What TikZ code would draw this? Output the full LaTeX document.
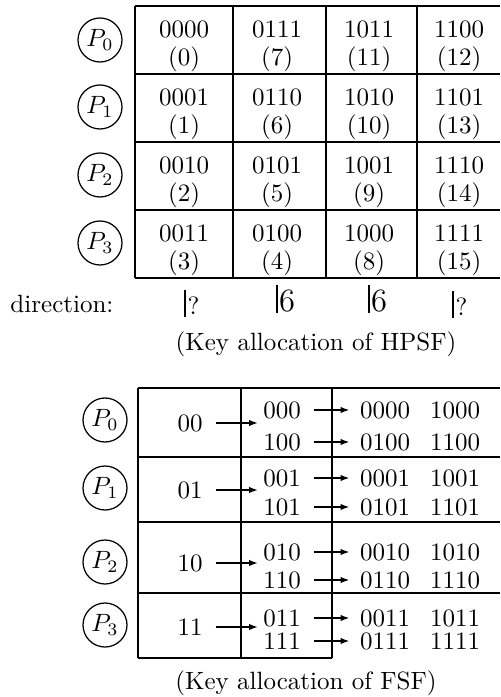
\documentclass[tikz,border=0pt]{standalone}
\usetikzlibrary{arrows.meta}
\newcommand\HPcell[5]{\node[num] (#1k) at (#2,#3+23) {#4}; \node[txt] (#1i) at (#2,#3+60) {(#5)};}
\newcommand\FSrow[9]{% #1 name, #2 key y, #3 key, #4 y1, #5 sub1, #6 targets1, #7 y2, #8 sub2, #9 targets2
  \node[num] (#1k) at (190,#2) {#3};
  \coordinate (#1t) at (258,#2);
  \draw[arr, shorten <=5pt] (#1k) -- (#1t);
  \node[num] (#1a) at (282,#4) {#5};
  \node[num] (#1b) at (282,#7) {#8};
  \FStargets{#1a}{#4}#6
  \FStargets{#1b}{#7}#9
}
\newcommand\FStargets[4]{%
  \node[num] (#1x) at (385,#2) {#3};
  \node[num] (#1y) at (455,#2) {#4};
  \draw[arr, shorten <=5pt, shorten >=4pt] (#1) -- (#1x);
}
\begin{document}
\begin{tikzpicture}[x=0.4pt,y=-0.4pt,
  grid/.style={line width=0.7pt},
  proc/.style={circle,draw,line width=0.5pt,minimum size=17.6pt,inner sep=0pt},
  txt/.style={inner sep=0pt,anchor=base},
  num/.style={inner sep=0pt},
  dirbar/.style={line width=1pt},
  arr/.style={line width=0.6pt,-{Latex[length=3.6pt,width=2.6pt]}},
]
\useasboundingbox (0,0) rectangle (500,697);

% ---------- HPSF table ----------
\foreach \y in {6,74,142,210,278} \draw[grid] (135,\y) -- (500,\y);
\foreach \x in {135,233,326,417} \draw[grid] (\x,6) -- (\x,278);

\HPcell{a00}{184}{6}{0000}{0}
\HPcell{a01}{277}{6}{0111}{7}
\HPcell{a02}{369}{6}{1011}{11}
\HPcell{a03}{459}{6}{1100}{12}
\HPcell{a10}{184}{74}{0001}{1}
\HPcell{a11}{277}{74}{0110}{6}
\HPcell{a12}{369}{74}{1010}{10}
\HPcell{a13}{459}{74}{1101}{13}
\HPcell{a20}{184}{142}{0010}{2}
\HPcell{a21}{277}{142}{0101}{5}
\HPcell{a22}{369}{142}{1001}{9}
\HPcell{a23}{459}{142}{1110}{14}
\HPcell{a30}{184}{210}{0011}{3}
\HPcell{a31}{277}{210}{0100}{4}
\HPcell{a32}{369}{210}{1000}{8}
\HPcell{a33}{459}{210}{1111}{15}

\node[proc] (hp0) at (100,40) {$P_0$};
\node[proc] (hp1) at (100,107) {$P_1$};
\node[proc] (hp2) at (100,175) {$P_2$};
\node[proc] (hp3) at (100,243) {$P_3$};

\node[txt,anchor=base west] (dir) at (10,313) {direction:};
\draw[dirbar] (185,290) -- (185,317);
\node[txt,anchor=base west] (d0) at (187,315) {?};
\draw[dirbar] (277,285) -- (277,313);
\node[txt,anchor=base west,font=\fontsize{13}{13}\selectfont] (d1) at (278.5,312) {6};
\draw[dirbar] (369,285) -- (369,313);
\node[txt,anchor=base west,font=\fontsize{13}{13}\selectfont] (d2) at (370.5,312) {6};
\draw[dirbar] (453,291) -- (453,318);
\node[txt,anchor=base west] (d3) at (455,316) {?};

\node[txt] (cap1) at (316,351) {(Key allocation of HPSF)};

% ---------- FSF table ----------
\foreach \y in {388,457,522,593} \draw[grid] (138,\y) -- (500,\y);
\draw[grid] (138,658) -- (332,658);
\foreach \x in {138,241,332} \draw[grid] (\x,388) -- (\x,658);

\node[proc] (fp0) at (105,420) {$P_0$};
\node[proc] (fp1) at (105,488) {$P_1$};
\node[proc] (fp2) at (105,562) {$P_2$};
\node[proc] (fp3) at (105,625) {$P_3$};

\FSrow{r0}{423}{00}{410}{000}{{0000}{1000}}{442}{100}{{0100}{1100}}
\FSrow{r1}{490}{01}{478}{001}{{0001}{1001}}{507}{101}{{0101}{1101}}
\FSrow{r2}{563}{10}{552}{010}{{0010}{1010}}{580}{110}{{0110}{1110}}
\FSrow{r3}{627}{11}{618}{011}{{0011}{1011}}{641}{111}{{0111}{1111}}

\node[txt] (cap2) at (306,689) {(Key allocation of FSF)};
\end{tikzpicture}
\end{document}
